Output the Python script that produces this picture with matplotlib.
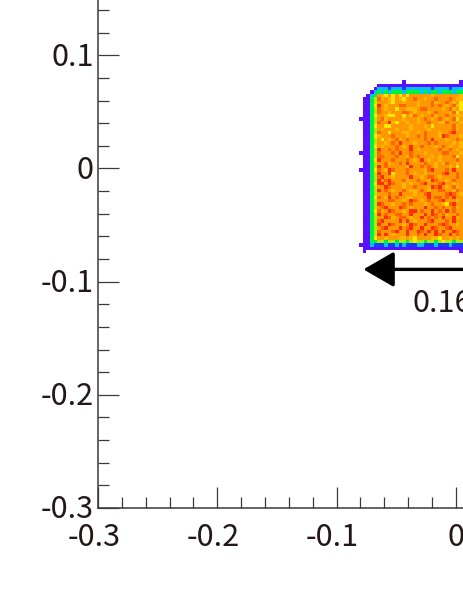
import numpy as np
import matplotlib
matplotlib.use("Agg")
import matplotlib.pyplot as plt
from matplotlib.colors import ListedColormap, BoundaryNorm
from matplotlib.transforms import ScaledTranslation

plt.rcParams['font.family'] = ['Noto Sans CJK JP', 'DejaVu Sans']

x_major = [-0.3, -0.2, -0.1, 0]
x_labels = ['-0.3', '-0.2', '-0.1', '0']
y_major = [-0.3, -0.2, -0.1, 0, 0.1]
y_labels = ['-0.3', '-0.2', '-0.1', '0', '0.1']

bin_width = 0.003
x_first_edge = -0.081
y_first_edge = 0.078

# one char per bin, hex level of the palette, top row first, '.' is empty
cell_rows = [
    "............1...............1",
    ".....111111111111111111111111",
    "....1333233323333333233332333",
    "...13434344434444343443444344",
    "..134876868686888888788888887",
    ".1145978768768898878898889877",
    ".1145888768878887888978898786",
    ".1146a87888998887888989878976",
    ".1145987886887778998888789786",
    ".1145988788899878887898887968",
    ".1146887668868798788978898877",
    "11145897888878887898789878968",
    ".1145988a76887887889887798887",
    ".1146886688888788878688888978",
    ".1145878887888788887888888978",
    ".1145988688877887898887889a88",
    ".1146788898887889898887a98887",
    ".1145868789789888898a88878898",
    ".1145887898a88878889898888787",
    ".1146878889878a88988878987887",
    ".1145a88989888a87888889889878",
    "11145988898a88988878888998887",
    ".1145998889887989888787888968",
    ".1146a88898889878a87887888898",
    ".114588978898a888898878798878",
    ".1145a89888887a88989878887868",
    "11146987a98889888879a88898a88",
    ".1145a88a688898788788889a8898",
    ".11459a8878888a88789987888898",
    ".1145a89a88897889887a98878988",
    ".1146aa8a988787889a8889a88788",
    ".114588a988878898887a9a878978",
    ".1145a89878898778987889988798",
    ".1145888988a8887889a88889a987",
    ".1146987a8988778888a899898a88",
    ".1145888998878a98789889a88878",
    ".1145a98878898988878988769a88",
    ".114589a888a987888a8898988978",
    ".1146978a98878aa8988a898a8988",
    ".1145a89889988a888a8a98978898",
    ".114588a978998788a89898a88a78",
    ".11459a8888a8a878889a88898a88",
    ".1145a88a98878a988a8889a98878",
    ".114589a888a89a88a88a9889a888",
    ".114598889a88a88a98a8a8a88a98",
    ".1145a8a87888a8898a88a988a898",
    ".1146887888778768888776887878",
    ".1144554554554565545545655455",
    "11132223223232223322232223222",
    ".1111111111111111111111111111",
    ".1..........................1",
]

level_colors = ['#5a10ff', '#1040ff', '#00c0f8', '#00f040', '#a8f000',
                '#ffe800', '#ffb400', '#ff9800', '#ff6400', '#ff2c00']

n_cols = 29
values = np.array([[np.nan if c == '.' else int(c, 16) for c in r] for r in cell_rows])
x_edges = x_first_edge + bin_width * np.arange(n_cols + 1)
y_edges = y_first_edge - bin_width * np.arange(len(cell_rows) + 1)

fig = plt.figure(figsize=(4.63, 5.99), dpi=100)
ax = fig.add_axes([98 / 463, 91 / 599, 365 / 463, 508 / 599])

cmap = ListedColormap(level_colors)
norm = BoundaryNorm(np.arange(0.5, 11.5), cmap.N)
ax.pcolormesh(x_edges, y_edges, values, cmap=cmap, norm=norm)

ax.annotate('', xy=(-0.0775, -0.0892), xytext=(0.01, -0.0892),
            arrowprops=dict(arrowstyle='-|>,head_length=19,head_width=11',
                            mutation_scale=1, lw=2.4, color='black',
                            shrinkA=0, shrinkB=0))
ax.text(-0.0362, -0.1265, '0.16', fontsize=22, color='#231815', va='baseline', ha='left')

ax.set_xlim(-0.3, 0.00595)
ax.set_ylim(-0.3, 0.1488)
ax.set_xticks(x_major)
ax.set_xticklabels(x_labels)
ax.set_yticks(y_major)
ax.set_yticklabels(y_labels)
ax.set_xticks(np.arange(-0.3, 0.0, 0.02), minor=True)
ax.set_yticks(np.arange(-0.3, 0.15, 0.02), minor=True)

for side in ['top', 'right']:
    ax.spines[side].set_visible(False)
for side in ['left', 'bottom']:
    ax.spines[side].set_linewidth(1.1)
    ax.spines[side].set_color('#3a3a3a')

ax.tick_params(which='major', direction='in', length=15, width=0.9, color='#3a3a3a',
               labelsize=22, labelcolor='#231815')
ax.tick_params(which='minor', direction='in', length=8, width=0.9, color='#3a3a3a')
ax.tick_params(axis='y', which='major', pad=3)
ax.tick_params(axis='x', which='major', pad=10)

# labels with a minus sit a little left of their tick, as in the original
shift_left = ScaledTranslation(-4 / 100, 0, fig.dpi_scale_trans)
for lab in ax.get_xticklabels():
    if lab.get_text().startswith('-'):
        lab.set_transform(lab.get_transform() + shift_left)
shift_up = ScaledTranslation(0, 1.5 / 100, fig.dpi_scale_trans)
for lab in ax.get_yticklabels():
    lab.set_transform(lab.get_transform() + shift_up)

fig.savefig("out.png", dpi=100)
